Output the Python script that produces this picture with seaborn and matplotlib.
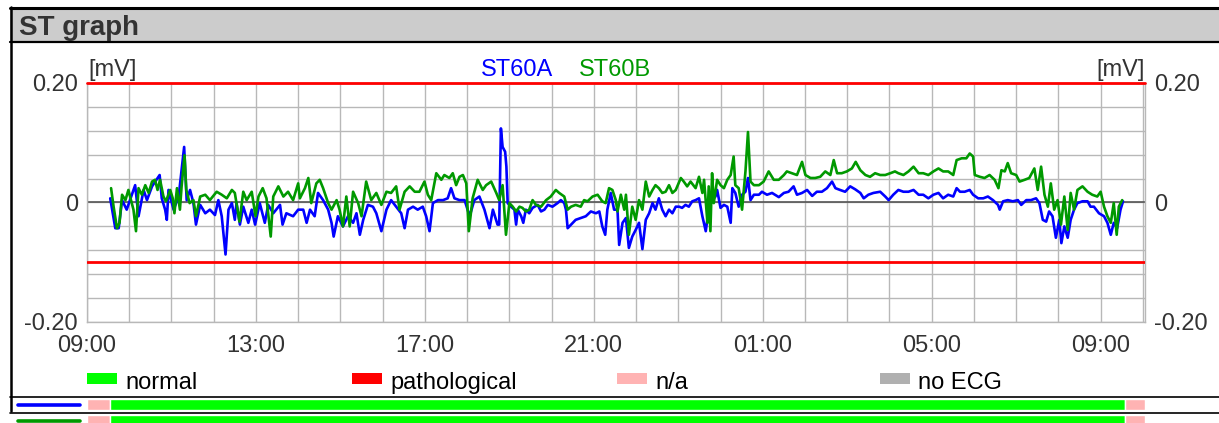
import numpy as np
import pandas as pd
import matplotlib
matplotlib.use('Agg')
import matplotlib.pyplot as plt
import matplotlib.dates as mdates
from matplotlib.ticker import MultipleLocator, FixedLocator
from matplotlib.patches import Rectangle
from matplotlib.lines import Line2D
import seaborn as sns

# ST level per lead, time in hours from midnight of the first day
st60a_hours = [9.55, 9.67, 9.75, 9.83, 9.94, 10.14, 10.22, 10.34, 10.42, 10.54, 10.72, 10.77, 10.85, 10.89,
               10.93, 11.05, 11.17, 11.30, 11.36, 11.44, 11.52, 11.58, 11.68, 11.80, 11.91, 12.03, 12.11,
               12.19, 12.28, 12.35, 12.43, 12.50, 12.54, 12.62, 12.70, 12.82, 12.90, 12.98, 13.09, 13.21,
               13.29, 13.41, 13.57, 13.63, 13.72, 13.88, 14.00, 14.12, 14.20, 14.28, 14.39, 14.47, 14.59,
               14.71, 14.79, 14.84, 14.94, 15.06, 15.18, 15.30, 15.38, 15.46, 15.54, 15.65, 15.77, 15.85,
               15.97, 16.09, 16.20, 16.32, 16.44, 16.52, 16.60, 16.72, 16.83, 16.95, 17.03, 17.11, 17.19,
               17.31, 17.43, 17.54, 17.62, 17.70, 17.82, 17.94, 18.06, 18.17, 18.29, 18.41, 18.53, 18.61,
               18.72, 18.76, 18.80, 18.84, 18.90, 18.93, 18.96, 19.04, 19.12, 19.16, 19.20, 19.28, 19.33,
               19.39, 19.47, 19.55, 19.67, 19.75, 19.83, 19.91, 20.02, 20.14, 20.22, 20.30, 20.34, 20.38,
               20.46, 20.57, 20.69, 20.81, 20.93, 21.05, 21.13, 21.20, 21.27, 21.32, 21.40, 21.48, 21.56,
               21.60, 21.68, 21.76, 21.83, 21.91, 21.99, 22.07, 22.15, 22.23, 22.31, 22.39, 22.46, 22.54,
               22.62, 22.70, 22.78, 22.86, 22.94, 23.02, 23.09, 23.17, 23.25, 23.33, 23.41, 23.49, 23.57,
               23.65, 23.72, 23.80, 23.88, 23.92, 24.00, 24.08, 24.16, 24.24, 24.28, 24.35, 24.43, 24.51,
               24.59, 24.65, 24.71, 24.79, 24.91, 24.98, 25.10, 25.22, 25.38, 25.50, 25.61, 25.73, 25.81,
               25.93, 26.05, 26.17, 26.28, 26.40, 26.52, 26.64, 26.72, 26.83, 26.95, 27.07, 27.19, 27.31,
               27.39, 27.50, 27.62, 27.78, 27.90, 27.98, 28.09, 28.21, 28.33, 28.45, 28.57, 28.69, 28.80,
               28.92, 29.04, 29.16, 29.27, 29.39, 29.51, 29.59, 29.67, 29.78, 29.90, 29.98, 30.10, 30.22,
               30.33, 30.45, 30.57, 30.61, 30.69, 30.80, 30.92, 31.04, 31.12, 31.24, 31.35, 31.47, 31.55,
               31.63, 31.71, 31.78, 31.86, 31.94, 32.02, 32.07, 32.14, 32.22, 32.29, 32.37, 32.45, 32.57,
               32.69, 32.76, 32.84, 32.96, 33.08, 33.16, 33.24, 33.31, 33.39, 33.47, 33.53]
st60a_mv = [0.007, -0.043, -0.043, 0.004, -0.012, 0.029, -0.023, 0.021, 0.004, 0.027, 0.046, 0.007, -0.012, -0.029,
            0.021, -0.012, 0.010, 0.093, 0.004, 0.021, -0.001, -0.037, -0.004, -0.018, -0.012, -0.021, 0.004,
            -0.023, -0.087, -0.012, -0.001, -0.029, -0.001, -0.037, -0.007, -0.034, -0.012, -0.037, -0.001, -0.034,
            -0.004, -0.018, -0.004, -0.037, -0.018, -0.023, -0.012, -0.012, -0.034, -0.012, -0.023, 0.016, 0.004,
            -0.012, -0.034, -0.057, -0.023, -0.040, -0.023, -0.034, -0.018, -0.054, -0.029, -0.004, -0.007, -0.018,
            -0.048, -0.012, 0.004, -0.007, -0.018, -0.043, -0.012, -0.007, -0.012, -0.007, -0.023, -0.048, -0.001,
            0.004, 0.004, 0.007, 0.024, 0.007, 0.004, 0.004, -0.023, 0.004, 0.010, -0.012, -0.043, -0.012,
            -0.037, -0.037, 0.124, 0.093, 0.085, 0.060, -0.001, -0.007, -0.012, -0.037, -0.012, -0.023, -0.034,
            -0.012, -0.018, -0.009, -0.004, -0.015, -0.012, -0.004, -0.007, -0.001, 0.004, -0.001, -0.012, -0.043,
            -0.037, -0.029, -0.026, -0.023, -0.015, -0.018, -0.015, -0.040, -0.054, -0.012, 0.016, -0.012, -0.012,
            -0.071, -0.034, -0.026, -0.076, -0.057, -0.046, -0.034, -0.078, -0.029, -0.018, -0.001, -0.012, 0.007,
            -0.012, -0.023, -0.012, -0.018, -0.007, -0.007, -0.009, -0.004, -0.007, 0.002, 0.004, 0.007, -0.023,
            -0.048, -0.012, 0.004, 0.010, 0.021, -0.009, -0.004, -0.007, -0.034, 0.024, 0.016, -0.007, 0.013,
            0.018, 0.041, 0.004, 0.013, 0.013, 0.018, 0.013, 0.016, 0.009, 0.016, 0.018, 0.027, 0.013,
            0.016, 0.021, 0.011, 0.018, 0.018, 0.024, 0.035, 0.024, 0.021, 0.018, 0.027, 0.022, 0.016,
            0.007, 0.013, 0.016, 0.018, 0.010, 0.004, 0.013, 0.021, 0.018, 0.018, 0.021, 0.013, 0.013,
            0.007, 0.013, 0.016, 0.007, 0.013, 0.010, 0.024, 0.018, 0.018, 0.021, 0.013, 0.007, 0.007,
            0.010, 0.004, -0.004, -0.012, 0.002, 0.004, 0.002, 0.004, -0.004, 0.004, 0.004, 0.007, -0.001,
            -0.029, -0.032, -0.015, -0.023, -0.059, -0.029, -0.068, -0.040, -0.059, -0.029, -0.012, -0.001, 0.002,
            0.002, -0.007, -0.007, -0.018, -0.023, -0.034, -0.054, -0.034, -0.043, -0.012, 0.002]

st60b_hours = [9.57, 9.63, 9.71, 9.77, 9.83, 9.91, 9.98, 10.10, 10.16, 10.22, 10.30, 10.38, 10.46, 10.54,
               10.61, 10.67, 10.73, 10.81, 10.87, 10.97, 11.03, 11.07, 11.13, 11.20, 11.24, 11.31, 11.35,
               11.43, 11.52, 11.58, 11.68, 11.80, 11.91, 12.07, 12.19, 12.31, 12.43, 12.50, 12.61, 12.70,
               12.78, 12.90, 12.99, 13.06, 13.16, 13.25, 13.35, 13.41, 13.53, 13.65, 13.76, 13.88, 14.00,
               14.04, 14.16, 14.24, 14.31, 14.43, 14.51, 14.59, 14.71, 14.79, 14.91, 14.98, 15.06, 15.14,
               15.22, 15.30, 15.42, 15.50, 15.61, 15.73, 15.85, 15.97, 16.09, 16.20, 16.32, 16.40, 16.52,
               16.64, 16.76, 16.87, 16.99, 17.07, 17.15, 17.27, 17.39, 17.46, 17.58, 17.66, 17.74, 17.82,
               17.90, 17.98, 18.04, 18.13, 18.25, 18.37, 18.45, 18.57, 18.69, 18.76, 18.84, 18.92, 19.00,
               19.08, 19.16, 19.24, 19.31, 19.39, 19.47, 19.55, 19.63, 19.75, 19.87, 19.98, 20.10, 20.18,
               20.30, 20.38, 20.46, 20.57, 20.69, 20.77, 20.85, 20.97, 21.09, 21.20, 21.28, 21.36, 21.44,
               21.52, 21.56, 21.64, 21.72, 21.76, 21.83, 21.91, 21.99, 22.07, 22.15, 22.23, 22.31, 22.39,
               22.46, 22.54, 22.62, 22.70, 22.78, 22.86, 22.94, 23.06, 23.13, 23.21, 23.29, 23.41, 23.49,
               23.57, 23.61, 23.69, 23.72, 23.76, 23.80, 23.84, 23.92, 24.00, 24.08, 24.16, 24.24, 24.31,
               24.35, 24.43, 24.51, 24.59, 24.65, 24.71, 24.79, 24.91, 25.02, 25.14, 25.26, 25.38, 25.50,
               25.57, 25.69, 25.81, 25.93, 26.01, 26.13, 26.24, 26.36, 26.48, 26.60, 26.68, 26.76, 26.87,
               26.99, 27.11, 27.20, 27.31, 27.43, 27.54, 27.66, 27.78, 27.90, 28.02, 28.13, 28.21, 28.33,
               28.45, 28.57, 28.69, 28.80, 28.92, 29.04, 29.16, 29.27, 29.39, 29.51, 29.59, 29.71, 29.82,
               29.90, 29.98, 30.02, 30.14, 30.25, 30.37, 30.49, 30.58, 30.65, 30.73, 30.80, 30.88, 31.00,
               31.08, 31.20, 31.31, 31.43, 31.51, 31.59, 31.67, 31.75, 31.82, 31.90, 31.98, 32.06, 32.14,
               32.22, 32.29, 32.37, 32.45, 32.57, 32.69, 32.80, 32.92, 33.00, 33.08, 33.16, 33.24, 33.31,
               33.38, 33.43, 33.51]
st60b_mv = [0.024, -0.007, -0.043, -0.034, 0.013, 0.004, 0.021, -0.012, -0.048, 0.024, 0.013, 0.029, 0.016, 0.035,
            0.038, 0.021, 0.038, 0.010, 0.002, 0.021, 0.007, -0.018, 0.024, -0.012, 0.027, 0.079, 0.021,
            -0.001, 0.004, -0.023, 0.010, 0.013, 0.004, 0.018, 0.013, 0.007, 0.021, 0.016, -0.032, 0.018,
            0.004, 0.018, -0.023, 0.010, 0.024, 0.007, -0.057, 0.010, 0.027, 0.010, 0.018, 0.004, 0.032,
            0.007, 0.024, 0.041, -0.001, 0.032, 0.038, 0.024, -0.001, -0.012, 0.004, -0.012, -0.040, 0.010,
            -0.040, 0.018, -0.001, -0.023, 0.035, 0.004, 0.016, -0.004, 0.018, 0.016, 0.027, -0.012, 0.018,
            0.027, 0.018, 0.018, 0.035, 0.013, 0.004, 0.049, 0.038, 0.046, 0.041, 0.049, 0.029, 0.043,
            0.046, 0.032, -0.048, 0.007, 0.038, 0.021, 0.029, 0.035, 0.016, 0.004, 0.029, -0.054, -0.001,
            -0.007, -0.015, -0.007, -0.009, -0.015, -0.012, 0.004, -0.004, -0.007, 0.004, 0.010, 0.021, 0.016,
            0.010, -0.012, -0.007, -0.004, -0.007, 0.004, 0.002, 0.010, 0.013, 0.002, -0.001, 0.024, 0.021,
            0.004, -0.015, 0.013, -0.012, 0.013, -0.054, -0.007, -0.029, 0.004, -0.012, 0.035, 0.010, 0.021,
            0.029, 0.024, 0.016, 0.018, 0.029, 0.016, 0.021, 0.041, 0.035, 0.027, 0.035, 0.024, 0.043,
            0.016, 0.038, -0.034, 0.027, -0.048, 0.049, -0.001, 0.038, 0.029, 0.024, 0.038, 0.046, 0.077,
            0.029, 0.024, -0.012, 0.052, 0.118, 0.035, 0.029, 0.029, 0.035, 0.052, 0.038, 0.038, 0.046,
            0.052, 0.049, 0.046, 0.068, 0.046, 0.041, 0.041, 0.043, 0.052, 0.046, 0.071, 0.049, 0.049,
            0.052, 0.057, 0.068, 0.054, 0.046, 0.043, 0.049, 0.046, 0.046, 0.049, 0.052, 0.049, 0.046,
            0.052, 0.060, 0.049, 0.049, 0.046, 0.052, 0.057, 0.052, 0.052, 0.046, 0.071, 0.074, 0.074,
            0.082, 0.077, 0.046, 0.043, 0.041, 0.046, 0.038, 0.024, 0.054, 0.052, 0.066, 0.049, 0.046,
            0.035, 0.038, 0.041, 0.057, 0.021, 0.060, 0.013, -0.007, 0.032, -0.012, 0.004, -0.037, 0.010,
            -0.046, 0.016, -0.012, 0.021, 0.027, 0.018, 0.013, 0.010, 0.018, -0.007, -0.023, -0.034, -0.001,
            -0.054, -0.007, 0.004]

# signal quality segments (same for both leads)
status_start = [9.0, 9.54, 33.57]
status_end = [9.54, 33.57, 34.06]
status_kind = ['n/a', 'normal', 'n/a']

legend_names = ['normal', 'pathological', 'n/a', 'no ECG']
legend_colors = ['#00ff00', '#ff0000', '#ffb3b3', '#b0b0b0']
lead_colors = {'ST60A': '#0000ff', 'ST60B': '#009900'}

W, H = 1219, 423


def fx(px):
    return px / W


def fy(py):
    return 1 - py / H


base = pd.Timestamp('2000-01-01')


def to_time(h):
    return base + pd.to_timedelta(np.asarray(h), unit='h')


df = pd.concat([
    pd.DataFrame({'time': to_time(st60a_hours), 'mv': st60a_mv, 'lead': 'ST60A'}),
    pd.DataFrame({'time': to_time(st60b_hours), 'mv': st60b_mv, 'lead': 'ST60B'}),
], ignore_index=True)

sns.set_style('white')
plt.rcParams['font.family'] = ['Liberation Sans', 'DejaVu Sans']

fig = plt.figure(figsize=(W / 100, H / 100), dpi=100)

# header bar
fig.patches.append(Rectangle((fx(10), fy(41)), 1 - fx(10), fy(10) - fy(41), transform=fig.transFigure,
                             facecolor='#cccccc', edgecolor='none'))
fig.add_artist(Line2D([fx(10), 1], [fy(8.5), fy(8.5)], color='black', lw=2.2))
fig.add_artist(Line2D([fx(10), 1], [fy(41.8), fy(41.8)], color='black', lw=1.6))
fig.add_artist(Line2D([fx(10.6), fx(10.6)], [fy(7.5), fy(411)], color='black', lw=1.8))
fig.text(fx(19), fy(35), 'ST graph', fontsize=20, fontweight='bold', color='#333333', va='baseline')

# main ST plot
ax = fig.add_axes([fx(87), fy(322), fx(1145) - fx(87), fy(83) - fy(322)])
sns.lineplot(data=df, x='time', y='mv', hue='lead', palette=lead_colors, estimator=None, sort=False,
             legend=False, lw=1.9, ax=ax)
ax.set_xlim(base + pd.Timedelta(hours=9), base + pd.Timedelta(hours=34.05))
ax.set_ylim(-0.2, 0.2)
ax.set_xlabel('')
ax.set_ylabel('')
ax.xaxis.set_major_locator(mdates.HourLocator(byhour=[1, 5, 9, 13, 17, 21]))
ax.xaxis.set_minor_locator(mdates.HourLocator())
ax.xaxis.set_major_formatter(mdates.DateFormatter('%H:%M'))
ax.yaxis.set_major_locator(FixedLocator([-0.2, 0, 0.2]))
ax.yaxis.set_major_formatter(lambda v, p: '0' if abs(v) < 1e-9 else f'{v:.2f}')
ax.yaxis.set_minor_locator(MultipleLocator(0.04))
ax.set_axisbelow(True)
ax.grid(which='both', color='#b8b8b8', lw=1)
ax.tick_params(axis='x', which='major', length=3, color='#b8b8b8', labelsize=17, labelcolor='#333333', pad=6)
ax.tick_params(axis='x', which='minor', length=0)
ax.tick_params(axis='y', which='both', length=0, labelsize=17, labelcolor='#333333',
               labelleft=True, labelright=True, pad=6.5)
for s in ax.spines.values():
    s.set_color('#b8b8b8')
    s.set_linewidth(1)
ax.axhline(0, color='#555555', lw=1.2, zorder=1)
ax.axhline(0.2, color='#ff0000', lw=2, zorder=3, clip_on=False)
ax.axhline(-0.1, color='#ff0000', lw=2, zorder=3)

fig.text(fx(88), fy(81), '[mV]', fontsize=17, color='#333333', va='bottom', ha='left')
fig.text(fx(1145), fy(81), '[mV]', fontsize=17, color='#333333', va='bottom', ha='right')
fig.text(fx(481), fy(76), 'ST60A', fontsize=17, color=lead_colors['ST60A'], va='baseline')
fig.text(fx(579), fy(76), 'ST60B', fontsize=17, color=lead_colors['ST60B'], va='baseline')

# status legend
legend_x = [87, 352, 617, 880]
for lx, name, col in zip(legend_x, legend_names, legend_colors):
    fig.patches.append(Rectangle((fx(lx), fy(384)), fx(30), fy(373) - fy(384), transform=fig.transFigure,
                                 facecolor=col, edgecolor='none'))
    fig.text(fx(lx + 38), fy(389), name, fontsize=17, color='black', va='baseline')

fig.add_artist(Line2D([fx(10), 1], [fy(397.3), fy(397.3)], color='black', lw=1.2))
fig.add_artist(Line2D([fx(10), 1], [fy(412.7), fy(412.7)], color='black', lw=1.2))

# status bars per lead
kind_color = dict(zip(legend_names, legend_colors))
sax = fig.add_axes([fx(86), 0, fx(1145) - fx(86), fy(397)])
sax.set_xlim(8.98, 34.05)
sax.set_ylim(26, 0)
sax.axis('off')
for row_y, lead in zip([2, 18], ['ST60A', 'ST60B']):
    for s, e, k in zip(status_start, status_end, status_kind):
        sax.broken_barh([(s, e - s)], (row_y, 11), facecolors=kind_color[k])
    fig.add_artist(Line2D([fx(18), fx(80)], [fy(397 + row_y + 6)] * 2, color=lead_colors[lead], lw=2.6))

fig.savefig('out.png', dpi=100)
